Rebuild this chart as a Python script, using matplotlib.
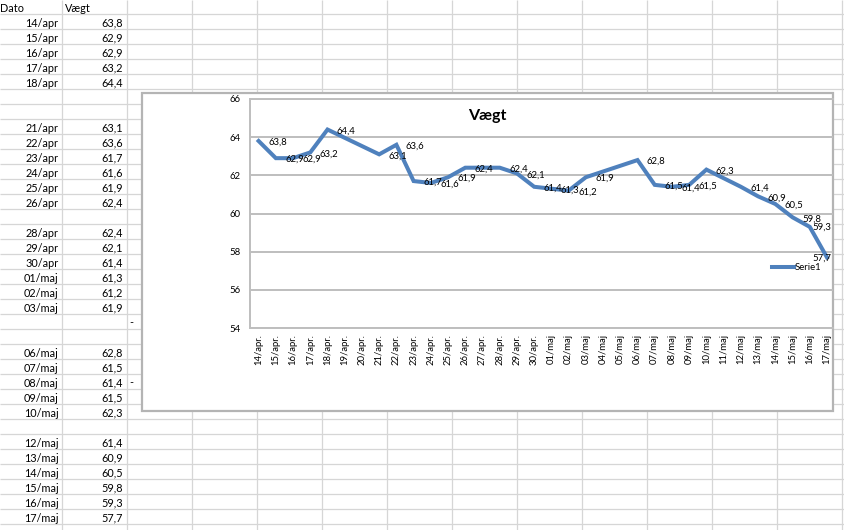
import matplotlib
matplotlib.use("Agg")
import matplotlib.pyplot as plt
import matplotlib.dates as mdates
from matplotlib.patches import Rectangle
from matplotlib.ticker import FuncFormatter
import datetime as dt

# ---------------- data ----------------
dates = ["14/apr", "15/apr", "16/apr", "17/apr", "18/apr",
         "21/apr", "22/apr", "23/apr", "24/apr", "25/apr", "26/apr",
         "28/apr", "29/apr", "30/apr", "01/maj", "02/maj", "03/maj",
         "06/maj", "07/maj", "08/maj", "09/maj", "10/maj",
         "12/maj", "13/maj", "14/maj", "15/maj", "16/maj", "17/maj"]
weights = [63.8, 62.9, 62.9, 63.2, 64.4,
           63.1, 63.6, 61.7, 61.6, 61.9, 62.4,
           62.4, 62.1, 61.4, 61.3, 61.2, 61.9,
           62.8, 61.5, 61.4, 61.5, 62.3,
           61.4, 60.9, 60.5, 59.8, 59.3, 57.7]
header = ["Dato", "Vægt"]
stray_cells = [("04/maj", "-"), ("08/maj", "-")]   # small "-" in column C
series_name = "Serie1"
chart_title = "Vægt"
y_ticks = [54, 56, 58, 60, 62, 64, 66]
month_num = {"apr": 4, "maj": 5}
month_tick = {4: "apr.", 5: "maj"}
YEAR = 2014

plt.rcParams['font.family'] = ['Lato', 'DejaVu Sans']


def fmt(v):
    return f"{v:.1f}".replace(".", ",")


def to_date(s):
    d, m = s.split("/")
    return dt.date(YEAR, month_num[m], int(d))


dts = [to_date(s) for s in dates]

W, H = 844, 530
fig = plt.figure(figsize=(W / 100, H / 100), dpi=100)

# ---------------- spreadsheet background ----------------
bg = fig.add_axes([0, 0, 1, 1])
bg.set_xlim(0, W)
bg.set_ylim(H, 0)
bg.axis('off')

ROW0, RH = 14.3, 15.0
COL0, CW = 61.7, 65.0
grid_c = '#D6D6D6'
ys = [ROW0 + RH * k for k in range(40) if ROW0 + RH * k < H]
xs = [COL0 + CW * k for k in range(20) if COL0 + CW * k < W]
bg.hlines(ys, 0, W, color=grid_c, lw=0.9, zorder=1)
bg.vlines(xs, 0, H, color=grid_c, lw=0.9, zorder=1)

cell_fs = 7.8
bg.text(0, ROW0 - 2.6, header[0], ha='left', va='baseline', fontsize=cell_fs, zorder=2)
bg.text(COL0 + 3.3, ROW0 - 2.6, header[1], ha='left', va='baseline', fontsize=cell_fs, zorder=2)
for s, d, v in zip(dates, dts, weights):
    row = (d - dts[0]).days + 1
    yb = ROW0 + RH * row - 2.6
    bg.text(COL0 - 3.2, yb, s, ha='right', va='baseline', fontsize=cell_fs, zorder=2)
    bg.text(COL0 + CW - 4.0, yb, fmt(v), ha='right', va='baseline', fontsize=cell_fs, zorder=2)
for s, t in stray_cells:
    row = (to_date(s) - dts[0]).days + 1
    yb = ROW0 + RH * row - 3.5
    bg.text(COL0 + CW + 2.5, yb, t, ha='left', va='baseline', fontsize=cell_fs, zorder=2)

# chart object
CX0, CY0, CX1, CY1 = 141.5, 92.5, 833.0, 410.5
bg.add_patch(Rectangle((CX0, CY0), CX1 - CX0, CY1 - CY0, facecolor='white',
                       edgecolor='#B4B4B4', lw=1.6, zorder=5))

# ---------------- chart ----------------
PL, PR, PT, PB = 250, 833, 99, 328
ax = fig.add_axes([PL / W, 1 - PB / H, (PR - PL) / W, (PB - PT) / H])
ax.patch.set_alpha(0)

line_c = '#4F81BD'
ax.plot(dts, weights, color=line_c, lw=2.9, label=series_name,
        solid_joinstyle='miter', zorder=3)

x0 = mdates.date2num(dts[0])
x1 = mdates.date2num(dts[-1])
ax.set_xlim(x0 - 0.5, x1 + 0.35)
ax.set_ylim(y_ticks[0], y_ticks[-1])
ax.set_yticks(y_ticks)
ax.xaxis.set_major_locator(mdates.DayLocator())


def xfmt(x, pos):
    d = mdates.num2date(x)
    return f"{d.day:02d}/{month_tick[d.month]}"


ax.xaxis.set_major_formatter(FuncFormatter(xfmt))
ax.tick_params(axis='x', rotation=90, length=0, pad=4.3, labelsize=6.8)
ax.tick_params(axis='y', length=0, pad=6.5, labelsize=6.9)

gc = '#BEBEBE'
ax.yaxis.grid(True, color=gc, lw=1.4)
ax.set_axisbelow(True)
for sp in ['left', 'bottom', 'top']:
    ax.spines[sp].set_color(gc)
    ax.spines[sp].set_linewidth(1.4)
ax.spines['right'].set_visible(False)

# data labels
lab_fs = 6.9
anns = []
for d, v in zip(dts, weights):
    a = ax.annotate(fmt(v), (d, v), xytext=(6.8, -1), textcoords='offset points',
                    ha='left', va='center', fontsize=lab_fs, zorder=4)
    anns.append((a, v))

fig.canvas.draw()
r = fig.canvas.get_renderer()
axbb = ax.get_window_extent(r)
for a, v in anns:
    bb = a.get_window_extent(r)
    if bb.x1 > axbb.x1 - 1:
        a.remove()
        ax.annotate(fmt(v), (1, v), xycoords=('axes fraction', 'data'),
                    xytext=(-1, -0.5), textcoords='offset points',
                    ha='right', va='center', fontsize=lab_fs, zorder=4)

ax.legend(loc='center left', bbox_to_anchor=(772 / W, 1 - 268 / H),
          bbox_transform=fig.transFigure, frameon=False, fontsize=lab_fs,
          handlelength=2.3, handletextpad=0.1, borderpad=0, borderaxespad=0)

fig.text(((CX0 + CX1) / 2) / W, 1 - 120 / H, chart_title, ha='center', va='baseline',
         fontsize=11.5, fontweight='bold', zorder=20)

fig.savefig('out.png', dpi=100)
